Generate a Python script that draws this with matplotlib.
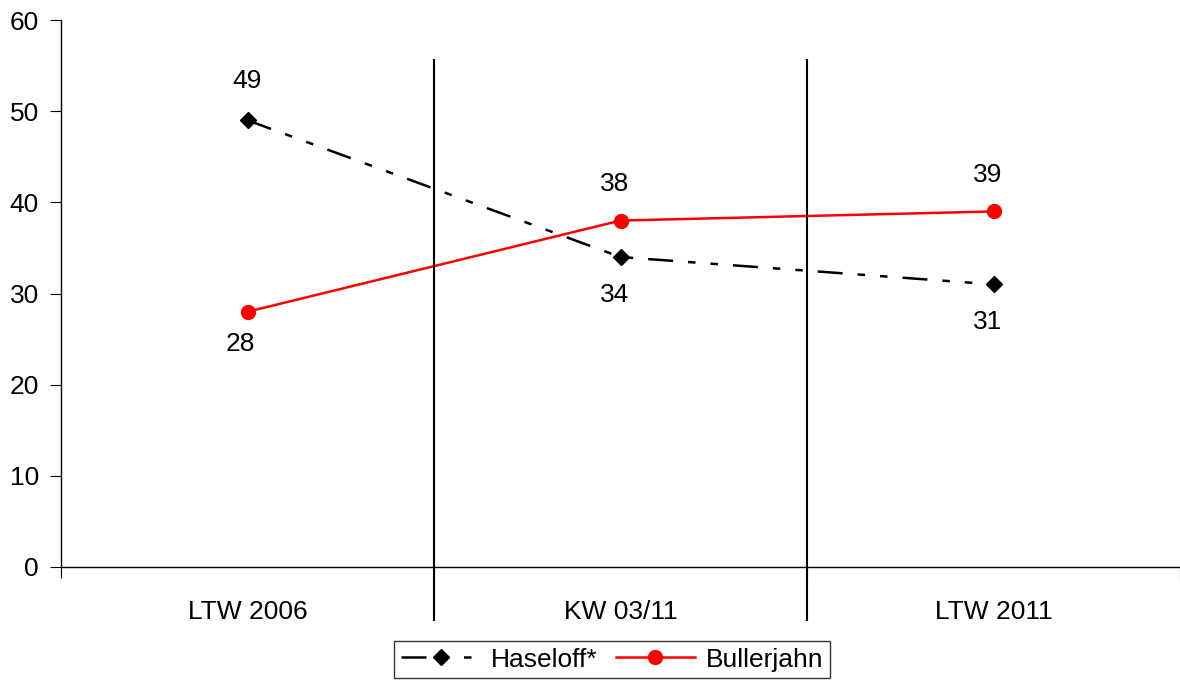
import matplotlib
matplotlib.use("Agg")
import matplotlib.pyplot as plt

plt.rcParams['font.family'] = ['Liberation Sans', 'DejaVu Sans']

categories = ['LTW 2006', 'KW 03/11', 'LTW 2011']
haseloff = [49, 34, 31]
bullerjahn = [28, 38, 39]

fig = plt.figure(figsize=(11.8, 6.8), dpi=100)
ax = fig.add_axes([61/1180, 113/680, 1119/1180, 547/680])

x = list(range(len(categories)))
ax.plot(x, haseloff, color='black', lw=1.8, dashes=(10, 6, 3, 6, 3, 6),
        marker='D', ms=8, label='Haseloff*')
ax.plot(x, bullerjahn, color='red', lw=1.8, marker='o', ms=10,
        label='Bullerjahn')

# value labels
for xi, h, b in zip(x, haseloff, bullerjahn):
    if h > b:
        ax.annotate(str(h), (xi, h), xytext=(0, 28), textcoords='offset points',
                    ha='center', va='center', fontsize=19)
        ax.annotate(str(b), (xi, b), xytext=(-5, -23), textcoords='offset points',
                    ha='center', va='center', fontsize=19)
    else:
        ax.annotate(str(b), (xi, b), xytext=(-4, 26), textcoords='offset points',
                    ha='center', va='center', fontsize=19)
        ax.annotate(str(h), (xi, h), xytext=(-4, -27), textcoords='offset points',
                    ha='center', va='center', fontsize=19)

# separators between periods
for sep in [0.5, 1.5]:
    ax.plot([sep, sep], [55.6, -5.8], color='black', lw=1.5, clip_on=False)

ax.set_xlim(-0.5, 2.5)
ax.set_ylim(0, 60)
ax.set_yticks(range(0, 61, 10))
ax.set_xticks([-0.5, 0.5, 1.5, 2.5])
ax.set_xticklabels([])
ax.set_xticks(x, minor=True)
ax.set_xticklabels(categories, minor=True)
ax.tick_params(axis='x', which='minor', length=0, pad=24, labelsize=19)
ax.tick_params(axis='x', which='major', length=8, direction='out')
ax.tick_params(axis='y', length=8, direction='out', labelsize=19, pad=8)

for s in ['top', 'right']:
    ax.spines[s].set_visible(False)
for s in ['left', 'bottom']:
    ax.spines[s].set_linewidth(1)

leg = fig.legend(loc='upper center', bbox_to_anchor=(612/1180, 1 - 641/680),
                 ncol=2, fontsize=19, frameon=True, fancybox=False,
                 edgecolor='black', handlelength=3.0, columnspacing=0.7,
                 handletextpad=0.4, borderpad=0.25, borderaxespad=0)
leg.get_frame().set_linewidth(1)

fig.savefig('out.png', dpi=100)
